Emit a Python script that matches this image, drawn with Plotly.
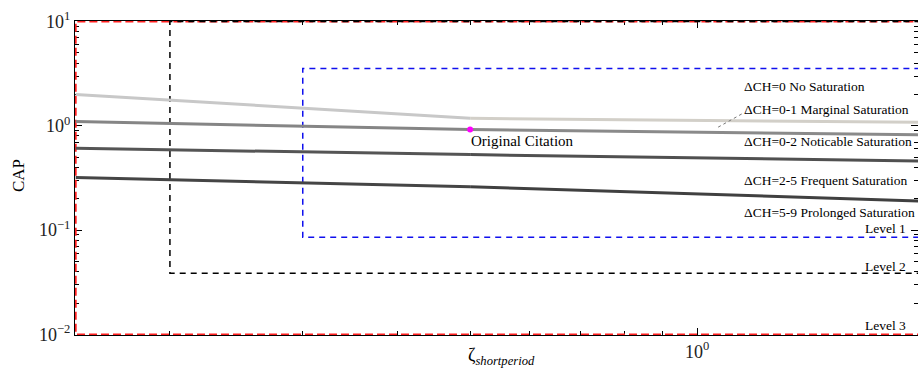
import numpy as np
import plotly.graph_objects as go

# ---- data ----
zeta_pts = [0.15, 0.5, 2.0]
cap_no_sat = [2.0, 1.18, 1.08]
cap_marginal = [1.10, 0.92, 0.82]
cap_noticable = [0.61, 0.53, 0.46]
cap_frequent = [0.32, 0.26, 0.19]
line_labels = ["ΔCH=0 No Saturation", "ΔCH=0-1 Marginal Saturation",
               "ΔCH=0-2 Noticable Saturation", "ΔCH=2-5 Frequent Saturation",
               "ΔCH=5-9 Prolonged Saturation"]

orig_zeta = [0.5]
orig_cap = [0.92]

lvl1_x = [2.5, 0.3, 0.3, 2.5]
lvl1_y = [3.55, 3.55, 0.0853, 0.0853]
lvl2_x = [2.5, 0.2, 0.2, 2.5]
lvl2_y = [10, 10, 0.0386, 0.0386]
lvl3_x = [2.5, 0.15, 0.15, 2.5]
lvl3_y = [10, 10, 0.01, 0.01]

leader_x = [1.066, 1.15]
leader_y = [0.971, 1.32]

y_tickvals = [10, 1, 0.1, 0.01]
y_ticktext = ["10<sup>1</sup>", "10<sup>0</sup>", "10<sup>−1</sup>", "10<sup>−2</sup>"]
x_tickvals = [1]
x_ticktext = ["10<sup>0</sup>"]

x_minor = [0.2, 0.3, 0.4, 0.5, 0.6, 0.7, 0.8, 0.9, 2]
y_minor = [m * d for d in (0.01, 0.1, 1) for m in range(2, 10)]

XMIN, XMAX_LOG = 0.15, 0.2927
PADX, PADY = 0.0009, 0.005

fig = go.Figure()

# level boxes
fig.add_trace(go.Scatter(x=lvl3_x, y=lvl3_y, mode="lines",
                         line=dict(color="#ff2020", width=2, dash="8px,4px"), hoverinfo="skip"))
fig.add_trace(go.Scatter(x=lvl2_x, y=lvl2_y, mode="lines",
                         line=dict(color="black", width=1.5, dash="6px,5px"), hoverinfo="skip"))
fig.add_trace(go.Scatter(x=lvl1_x, y=lvl1_y, mode="lines",
                         line=dict(color="#1010ee", width=1.5, dash="6px,5px"), hoverinfo="skip"))

# CAP boundary lines (two segments each, slight color change)
def seg(ys, c1, c2, w):
    fig.add_trace(go.Scatter(x=zeta_pts[:2], y=ys[:2], mode="lines",
                             line=dict(color=c1, width=w), hoverinfo="skip"))
    fig.add_trace(go.Scatter(x=zeta_pts[1:], y=ys[1:], mode="lines",
                             line=dict(color=c2, width=w), hoverinfo="skip"))

seg(cap_no_sat, "#c8c8c8", "#d2cfc8", 3)
seg(cap_marginal, "#858585", "#8a8a8a", 3)
seg(cap_noticable, "#555555", "#505050", 3)
seg(cap_frequent, "#454545", "#404040", 3)

fig.add_trace(go.Scatter(x=leader_x, y=leader_y, mode="lines",
                         line=dict(color="#777777", width=1, dash="dot"), hoverinfo="skip"))

fig.add_trace(go.Scatter(x=orig_zeta, y=orig_cap, mode="markers",
                         marker=dict(color="#ff00ff", size=6), hoverinfo="skip"))

L, R, T, B = 75, 0, 21, 34
W, H = 918, 369
pw, ph = W - L - R, H - T - B

def px(xp):
    return (xp - L) / pw

def py(yp):
    return (H - B - yp) / ph

SERIF = "Liberation Serif, Times New Roman, serif"
font_txt = dict(family=SERIF, size=13.5, color="black")
ann = []
label_y = [86.7, 109.3, 141.7, 180.0, 212.0]
for t, yy in zip(line_labels, label_y):
    ann.append(dict(x=px(742), y=py(yy), xref="paper", yref="paper", text=t,
                    showarrow=False, xanchor="left", yanchor="middle", font=font_txt))
for t, yy in zip(["Level 1", "Level 2", "Level 3"], [228.0, 266.5, 325.5]):
    ann.append(dict(x=px(908), y=py(yy), xref="paper", yref="paper", text=t,
                    showarrow=False, xanchor="right", yanchor="middle", font=font_txt))
ann.append(dict(x=px(469), y=py(140.7), xref="paper", yref="paper", text="Original Citation",
                showarrow=False, xanchor="left", yanchor="middle",
                font=dict(family=SERIF, size=15, color="black")))
ann.append(dict(x=px(18), y=py(175), xref="paper", yref="paper", text="CAP", textangle=-90,
                showarrow=False, xanchor="center", yanchor="middle",
                font=dict(family=SERIF, size=17, color="black")))
ann.append(dict(x=px(501), y=py(356), xref="paper", yref="paper",
                text="ζ<sub><i>shortperiod</i></sub>",
                showarrow=False, xanchor="center", yanchor="middle",
                font=dict(family=SERIF, size=18, color="black")))

axis_common = dict(showline=True, linecolor="black", linewidth=1, mirror="ticks",
                   ticks="inside", ticklen=7, tickcolor="black", showgrid=False,
                   zeroline=False, layer="below traces",
                   tickfont=dict(family=SERIF, size=18, color="#222"))

fig.update_layout(
    width=W, height=H, margin=dict(l=L, r=R, t=T, b=B),
    paper_bgcolor="white", plot_bgcolor="white", showlegend=False,
    annotations=ann,
    xaxis=dict(type="log", range=[np.log10(XMIN) - PADX, XMAX_LOG], tickvals=x_tickvals,
               ticktext=x_ticktext,
               minor=dict(tickvals=x_minor, ticks="inside", ticklen=4, tickcolor="black"),
               **axis_common),
    yaxis=dict(type="log", range=[-2 - PADY, 1 + PADY], tickvals=y_tickvals, ticktext=y_ticktext,
               minor=dict(tickvals=y_minor, ticks="inside", ticklen=4, tickcolor="black"),
               **axis_common),
)

fig.write_html("out.html")
